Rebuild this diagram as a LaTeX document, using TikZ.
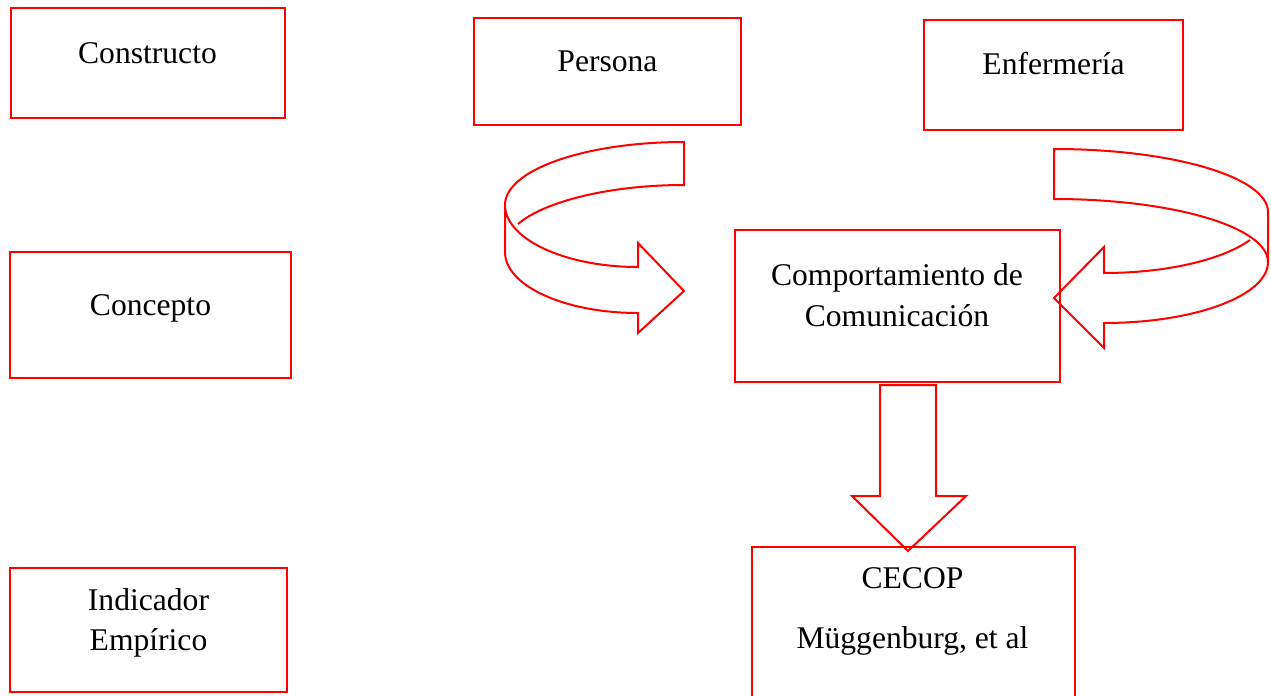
\documentclass[tikz,border=0pt]{standalone}
\usepackage{fontspec}
\setmainfont{Liberation Serif}
\tikzset{
  caja/.style={draw=red, line width=1pt, inner sep=0pt},
  texto/.style={anchor=base, inner sep=0pt, font=\fontsize{15.8}{19}\selectfont},
  flecha/.style={draw=red, line width=1pt, line join=miter}
}
\begin{document}
\begin{tikzpicture}[x=0.5pt,y=-0.5pt]
  \clip (0,0) rectangle (1271,696);
  % cajas de la izquierda
  \node[caja,minimum width=137.25pt,minimum height=55pt] (constructo) at (147.75,63) {};
  \node[caja,minimum width=140.5pt,minimum height=63pt] (concepto) at (150.5,315) {};
  \node[caja,minimum width=138.5pt,minimum height=62pt] (indicador) at (148.5,630) {};
  \node[texto] (constructoT) at (147.5,63) {Constructo};
  \node[texto] (conceptoT) at (150.5,315) {Concepto};
  \node[texto] (indicadorT) at (148.5,610) {Indicador};
  \node[texto] (indicadorT2) at (148.5,650) {Empírico};
  % cajas del modelo
  \node[caja,minimum width=133.5pt,minimum height=53.5pt] (persona) at (607.5,71.5) {};
  \node[caja,minimum width=129.5pt,minimum height=55pt] (enfermeria) at (1053.5,75) {};
  \node[caja,minimum width=162.5pt,minimum height=76pt] (comport) at (897.5,306) {};
  \node[caja,minimum width=161.5pt,minimum height=77pt] (cecop) at (913.5,624) {};
  \node[texto] (personaT) at (607.5,71) {Persona};
  \node[texto] (enfermeriaT) at (1053.5,75) {Enfermería};
  \node[texto] (comportT) at (897,285) {Comportamiento de};
  \node[texto] (comportT2) at (897,326) {Comunicación};
  \node[texto] (cecopT) at (912.5,588) {CECOP};
  \node[texto] (cecopT2) at (912.5,648) {Müggenburg, et al};
  % flecha curva izquierda
  \draw[flecha] (518,224) .. controls (545,201) and (611,185) .. (684,185)
    -- (684,142) .. controls (585,142) and (505,170) .. (505,205)
    -- (505,252) .. controls (505,286) and (565,313) .. (638,313)
    -- (638,333) -- (684,291) -- (638,243) -- (638,267)
    .. controls (565,267) and (505,239) .. (505,205);
  % flecha curva derecha
  \draw[flecha] (1268,262) .. controls (1268,227) and (1172,199) .. (1054,199)
    -- (1054,149) .. controls (1172,149) and (1268,177) .. (1268,212)
    -- (1268,262) .. controls (1268,296) and (1194,323) .. (1104,323)
    -- (1104,348) -- (1054,298) -- (1104,247) -- (1104,273)
    .. controls (1166,273) and (1222,260) .. (1250,240);
  % flecha hacia abajo
  \draw[flecha] (880,385) -- (936,385) -- (936,496) -- (966,496)
    -- (908,551) -- (852,496) -- (880,496) -- cycle;
\end{tikzpicture}
\end{document}
